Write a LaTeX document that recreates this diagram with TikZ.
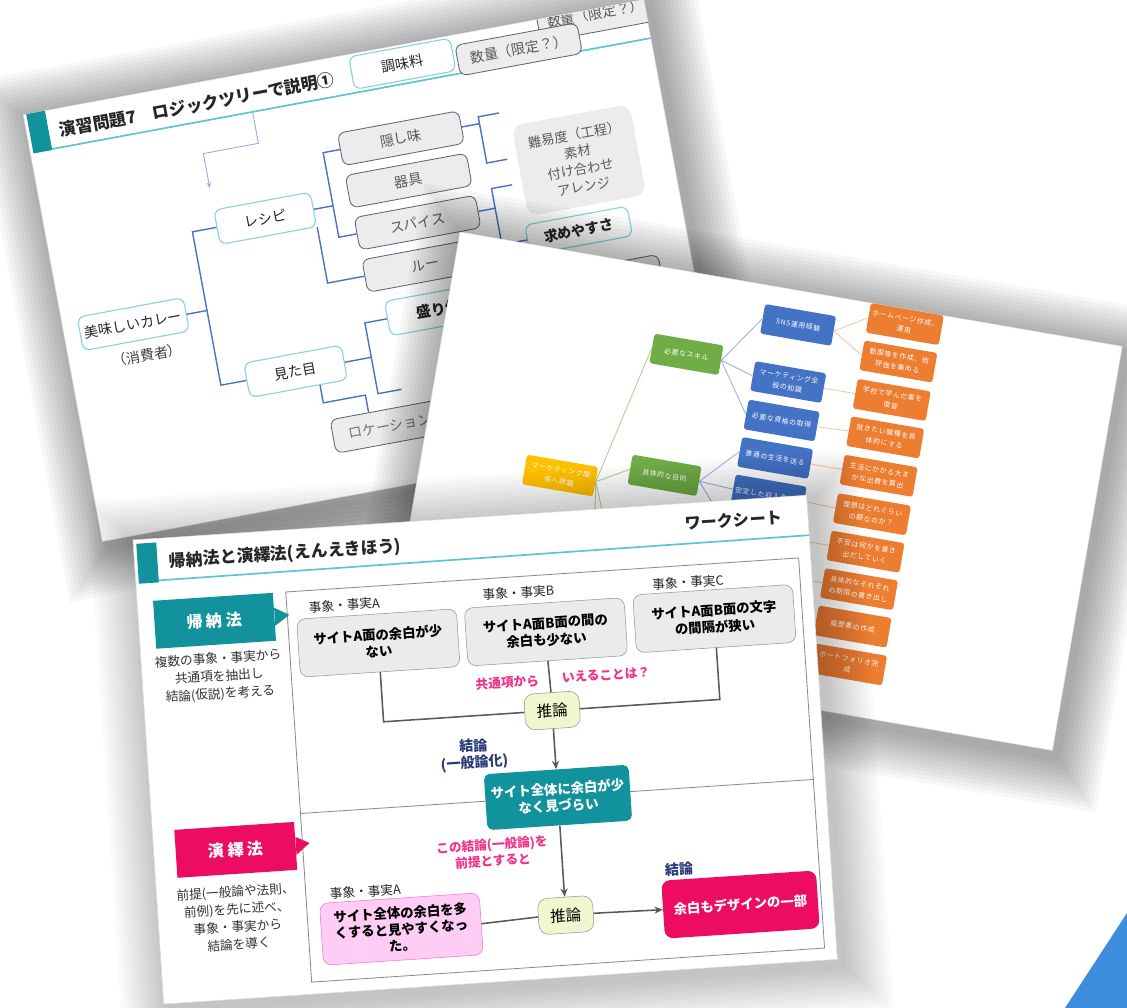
\documentclass[tikz,border=0pt]{standalone}
\usepackage{fontspec}
\setmainfont{Noto Sans CJK JP}
\newfontfamily\mmfont[LetterSpace=10]{Noto Sans CJK JP}
\usetikzlibrary{arrows.meta,calc}

\definecolor{tealc}{HTML}{12929C}
\definecolor{tealline}{HTML}{5CC4D2}
\definecolor{boxline}{HTML}{88D4DE}
\definecolor{treeblue}{HTML}{4A72C8}
\definecolor{darkbox}{HTML}{5E6478}
\definecolor{greyfill}{HTML}{ECECEC}
\definecolor{pinkc}{HTML}{EC0D63}
\definecolor{pinktxt}{HTML}{F0338A}
\definecolor{lightpink}{HTML}{FFCCF6}
\definecolor{pinkedge}{HTML}{F07ACD}
\definecolor{inferfill}{HTML}{F2F6CF}
\definecolor{navy}{HTML}{283A78}
\definecolor{mmyellow}{HTML}{FFC000}
\definecolor{mmgreen}{HTML}{70AD47}
\definecolor{mmblue}{HTML}{4472C4}
\definecolor{mmorange}{HTML}{ED7D31}
\definecolor{cornerblue}{HTML}{3D8DDD}

\newcommand\slideshadow[5]{%
  \foreach \k in {1,...,12}{\fill[black, opacity=#1] ({#2-4*\k+5},{#3-4*\k+6}) rectangle ({#4+4*\k+5},{#5+4*\k+6});}}

\tikzset{
  slidebox/.style={fill=white, draw=black!12, line width=0.4pt},
  keybox/.style={draw=boxline, fill=white, rounded corners=5pt, line width=0.8pt, minimum height=0.875cm, text=black!85, font=\fontsize{10}{12}\selectfont},
  leafbox/.style={draw=darkbox, fill=greyfill, rounded corners=5pt, line width=0.6pt, minimum width=3.075cm, minimum height=0.825cm, text=black!65, font=\fontsize{10}{12}\selectfont},
  tline/.style={draw=treeblue, line width=1pt},
  mmnode/.style={rounded corners=2pt, minimum width=1.8cm, minimum height=0.75cm, inner sep=1pt, text=white, align=center, font=\mmfont\fontsize{4.9}{8}\selectfont},
  mmgreenline/.style={draw=mmgreen!60, line width=0.6pt},
  mmblueline/.style={draw=mmblue!55, line width=0.6pt},
  mmorangeline/.style={draw=mmorange!45, line width=0.6pt},
  callout/.style={minimum width=3cm, minimum height=1.2cm, text=white, font=\bfseries\fontsize{11.5}{14}\selectfont},
  note/.style={align=center, text=black!80, font=\fontsize{9}{12.5}\selectfont},
  label3/.style={text=black!85, font=\fontsize{9}{11}\selectfont},
  factbox/.style={draw=black!40, fill=black!8, rounded corners=6pt, minimum width=4cm, minimum height=1.45cm, align=center, font=\bfseries\fontsize{9.5}{12}\selectfont},
  infer/.style={draw=black!40, fill=inferfill, rounded corners=7pt, minimum width=1.375cm, minimum height=0.9cm, font=\fontsize{11}{13}\selectfont},
  conn/.style={draw=black!65, line width=1.1pt},
  pinknote/.style={align=center, text=pinktxt, font=\bfseries\fontsize{9}{11.5}\selectfont},
  navynote/.style={align=center, text=navy, font=\bfseries\fontsize{10}{12}\selectfont}
}

\begin{document}
\begin{tikzpicture}[x=0.025cm, y=-0.025cm]
\useasboundingbox (0,0) rectangle (1127,1008);
\fill[white] (0,0) rectangle (1127,1008);

\begin{scope}[shift={(20,97)}, rotate=10.5, transform shape]
\slideshadow{0.032}{0}{18}{631}{452}
\fill[slidebox] (0,18) rectangle (631,452);
\begin{scope}
\clip (0,18) rectangle (631,452);
\fill[tealc] (3,18) rectangle (22,58);
\draw[tealline, line width=1.2pt] (22,57) -- (631,57);
\node[anchor=west, text=black!85, font=\bfseries\fontsize{12}{14}\selectfont] (title1) at (28,40) {演習問題7　ロジックツリーで説明①};
\node[leafbox, minimum width=2.925cm, minimum height=0.9cm] (amount2) at (581,23) {数量（限定？）};
\node[keybox, minimum width=2.575cm, minimum height=0.825cm] (seasoning) at (382,37) {調味料};
\node[leafbox, minimum width=3.1cm, minimum height=0.775cm] (amount) at (499,44) {数量（限定？）};

\node[keybox, minimum width=2.5cm, minimum height=0.85cm] (curry) at (70,244) {美味しいカレー};
\node[text=black!75, font=\fontsize{10}{12}\selectfont] (consumer) at (78,277) {（消費者）};
\node[keybox, minimum width=2.45cm] (recipe) at (219,164) {レシピ};
\node[keybox, minimum width=2.475cm] (look) at (221,320) {見た目};
\node[leafbox] (secret) at (367,110) {隠し味};
\node[leafbox] (tools) at (367,153) {器具};
\node[leafbox] (spicy) at (368,196) {スパイス};
\node[leafbox] (roux) at (368,239) {ルー};
\node[rounded corners=8pt, fill=greyfill, minimum width=3cm, minimum height=2.3cm, align=center, text=black!65, font=\fontsize{9.5}{12.5}\selectfont] (level) at (538,164) {難易度（工程）\\素材\\付け合わせ\\アレンジ};
\node[keybox, minimum width=2.6cm, minimum height=0.75cm, font=\bfseries\fontsize{10}{12}\selectfont] (ease) at (525,233) {求めやすさ};
\node[leafbox, minimum width=3.125cm, minimum height=0.8cm] (blank) at (536,287) {};
\node[keybox, minimum width=2.95cm, font=\bfseries\fontsize{10.5}{12}\selectfont] (plate) at (380,285) {盛り付け};
\node[leafbox, minimum width=2.9cm, minimum height=0.85cm, text=black!55] (place) at (304,391) {ロケーション};

\coordinate (j1) at (145,244);
\draw[tline] (curry.east) -- (j1);
\draw[tline] (recipe.west) -| (j1) |- (look.west);
\coordinate (j2) at (288,164);
\draw[tline] (recipe.east) -- (j2);
\draw[tline] (secret.west) -| (j2) |- (spicy.west);
\draw[tline] (recipe.south east) |- (roux.west);
\coordinate (j3) at (447,110);
\coordinate (j3a) at (468,103);
\coordinate (j3b) at (468,150);
\draw[tline] (secret.east) -- (j3);
\draw[tline] (j3a) -| (j3) |- (j3b);
\coordinate (j4) at (447,196);
\coordinate (j4a) at (468,176);
\draw[tline] (spicy.east) -- (j4);
\draw[tline] (j4a) -| (j4) |- (ease.west);
\coordinate (j5) at (298,320);
\coordinate (j5b) at (322,357);
\draw[tline] (look.east) -- (j5);
\draw[tline] (plate.west) -| (j5) |- (j5b);
\draw[tline] (look.-40) -- ++(0,18) -| (place.137);
\coordinate (a0) at (226,57);
\coordinate (a1) at (170,124);
\draw[draw=treeblue!60, line width=0.6pt, -{Stealth[length=4pt,width=3pt]}] (a0) -- ++(0,32) -| (a1);
\end{scope}
\end{scope}

\begin{scope}[shift={(460,232)}, rotate=-9.8, transform shape]
\slideshadow{0.032}{0}{0}{672}{410}
\fill[slidebox] (0,0) rectangle (672,410);
\begin{scope}
\clip (0,0) rectangle (672,410);
\node[mmnode, fill=mmyellow] (goal) at (140,223) {マーケティング関\\係へ就職};
\node[mmnode, fill=mmgreen, minimum width=1.75cm] (skill) at (244,82) {必要なスキル};
\node[mmnode, fill=mmgreen, minimum width=1.75cm] (aim) at (243,205) {具体的な目的};
\node[mmnode, fill=mmblue] (sns) at (349,34) {SNS運用経験};
\node[mmnode, fill=mmblue] (know) at (349,92) {マーケティング全\\般の知識};
\node[mmnode, fill=mmblue] (license) at (349,131) {必要な資格の取得};
\node[mmnode, fill=mmblue] (life) at (349,169) {普通の生活を送る};
\node[mmnode, fill=mmblue] (income) at (349,207) {安定した収入を得る};
\node[mmnode, fill=mmorange, minimum width=1.85cm] (web) at (454,15) {ホームページ作成、\\運用};
\node[mmnode, fill=mmorange, minimum width=1.85cm] (video) at (454,53) {動画等を作成、他\\評価を集める};
\node[mmnode, fill=mmorange, minimum width=1.85cm] (review) at (454,92) {学校で学んだ事を\\復習};
\node[mmnode, fill=mmorange, minimum width=1.85cm] (job) at (454,130) {就きたい職種を具\\体的にする};
\node[mmnode, fill=mmorange, minimum width=1.85cm] (spend) at (454,169) {生活にかかる大ま\\かな出費を算出};
\node[mmnode, fill=mmorange, minimum width=1.85cm] (ideal) at (454,208) {理想はどれぐらい\\の額なのか？};
\node[mmnode, fill=mmorange, minimum width=1.85cm] (worry) at (454,246) {不安は何かを書き\\出だしていく};
\node[mmnode, fill=mmorange, minimum width=1.85cm] (limit) at (454,284) {具体的なそれぞれ\\の期限の書き出し};
\node[mmnode, fill=mmorange, minimum width=1.85cm] (resume) at (454,322) {履歴書の作成};
\node[mmnode, fill=mmorange, minimum width=1.85cm] (folio) at (456,360) {ポートフォリオ完\\成};

\coordinate (aim2) at (220,330);
\coordinate (aim3) at (210,450);
\coordinate (cost) at (313,245);
\coordinate (plan1) at (385,246);
\coordinate (plan2) at (385,284);
\draw[mmgreenline] (goal.east) -- (skill.west);
\draw[mmgreenline] (goal.east) -- (aim.west);
\draw[mmgreenline] (goal.east) -- (aim2);
\draw[mmgreenline] (goal.east) -- (aim3);
\draw[mmblueline] (skill.east) -- (sns.west);
\draw[mmblueline] (skill.east) -- (know.west);
\draw[mmblueline] (skill.east) -- (license.west);
\draw[mmblueline] (aim.east) -- (life.west);
\draw[mmblueline] (aim.east) -- (income.west);
\draw[mmblueline] (aim.east) -- (cost);
\draw[mmorangeline] (sns.east) -- (web.west);
\draw[mmorangeline] (sns.east) -- (video.west);
\draw[mmorangeline] (know.east) -- (review.west);
\draw[mmorangeline] (license.east) -- (job.west);
\draw[mmorangeline] (life.east) -- (spend.west);
\draw[mmorangeline] (income.east) -- (ideal.west);
\draw[mmorangeline] (plan1) -- (worry.west);
\draw[mmorangeline] (plan2) -- (limit.west);
\end{scope}
\end{scope}

\begin{scope}[shift={(133,540)}, rotate=3.8, transform shape]
\slideshadow{0.018}{0}{0}{675}{465}
\fill[slidebox] (0,0) rectangle (675,465);
\fill[tealc] (3,4) rectangle (23,44);
\draw[tealline, line width=1.2pt] (23,42) -- (675,40);
\node[anchor=west, text=black!85, font=\bfseries\fontsize{12}{14}\selectfont] (title3) at (30,24) {帰納法と演繹法(えんえきほう)};
\node[anchor=east, text=black!85, font=\bfseries\fontsize{11.5}{14}\selectfont] (sheet) at (654,20) {ワークシート};
\draw[black!45, line width=0.6pt] (149,62) rectangle (663,453);
\draw[black!45, line width=0.6pt] (149,284) -- (663,284);

\node[callout, fill=tealc] (induct) at (76,86) {帰 納 法};
\fill[tealc] ($(induct.east)+(0,-9)$) -- (151,85) -- ($(induct.east)+(0,9)$) -- cycle;
\node[note] (inductnote) at (77,142) {複数の事象・事実から\\共通項を抽出し\\結論(仮説)を考える};

\node[anchor=west, label3] (facta) at (166,79) {事象・事実A};
\node[label3] (factb) at (381,78) {事象・事実B};
\node[label3] (factc) at (551,79) {事象・事実C};
\node[factbox] (casea) at (238,119) {サイトA面の余白が少\\ない};
\node[factbox] (caseb) at (406,119) {サイトA面B面の間の\\余白も少ない};
\node[factbox] (casec) at (575,117) {サイトA面B面の文字\\の間隔が狭い};
\node[infer] (infer1) at (407,198) {推論};
\draw[conn] (casea.south) |- (infer1.west);
\draw[conn] (casec.south) |- (infer1.east);
\draw[conn] (caseb.south) -- (infer1.north);
\node[pinknote] (common) at (364,167) {共通項から};
\node[pinknote] (say) at (463,166) {いえることは？};

\node[fill=tealc, text=white, rounded corners=4pt, minimum width=3.625cm, minimum height=1.4cm, align=center, font=\bfseries\fontsize{9.5}{12}\selectfont] (general) at (407,285) {サイト全体に余白が少\\なく見づらい};
\draw[conn, -{Stealth[length=6pt,width=5pt]}] (infer1.south) -- (general.north);
\node[navynote] (concl1) at (326,237) {結論\\(一般論化)};

\node[callout, fill=pinkc] (deduct) at (82,316) {演 繹 法};
\fill[pinkc] ($(deduct.east)+(0,-9)$) -- (156,314) -- ($(deduct.east)+(0,9)$) -- cycle;
\node[note] (deductnote) at (79,384) {前提(一般論や法則、\\前例)を先に述べ、\\事象・事実から\\結論を導く};
\node[pinknote] (premise) at (338,336) {この結論(一般論)を\\前提とすると};

\node[infer] (infer2) at (407,403) {推論};
\draw[conn, -{Stealth[length=6pt,width=5pt]}] (general.south) -- (infer2.north);
\node[anchor=west, label3] (factd) at (168,366) {事象・事実A};
\node[draw=pinkedge, fill=lightpink, rounded corners=6pt, minimum width=4cm, minimum height=1.55cm, align=center, font=\bfseries\fontsize{9.5}{11.5}\selectfont] (cased) at (242,406) {サイト全体の余白を多\\くすると見やすくなっ\\た。};
\node[fill=pinkc, text=white, rounded corners=6pt, minimum width=3.875cm, minimum height=1.45cm, font=\bfseries\fontsize{9.5}{12}\selectfont] (result) at (582,404) {余白もデザインの一部};
\node[navynote] (concl2) at (523,365) {結論};
\draw[conn] (cased.east) -- (infer2.west);
\draw[conn, -{Stealth[length=6pt,width=5pt]}] (infer2.east) -- (result.west);
\end{scope}

\fill[cornerblue] (1065,1008) -- (1127,913) -- (1127,1008) -- cycle;
\end{tikzpicture}
\end{document}
